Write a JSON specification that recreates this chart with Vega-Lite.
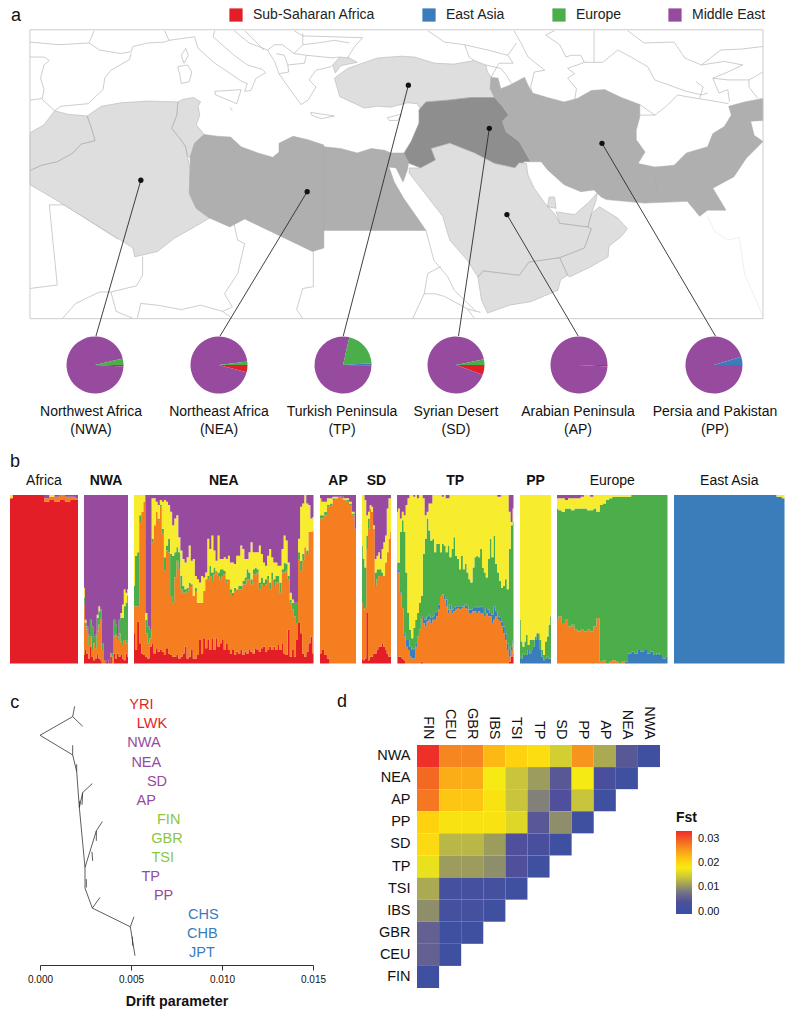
{"$schema":"https://vega.github.io/schema/vega-lite/v6.json","padding":0,"background":"white","spacing":0,"resolve":{"scale":{"color":"independent"},"legend":{"color":"independent"}},"config":{"font":"Liberation Sans","view":{"stroke":null},"title":{"font":"Liberation Sans","color":"#111"},"axis":{"labelFont":"Liberation Sans","titleFont":"Liberation Sans"},"legend":{"labelFont":"Liberation Sans","titleFont":"Liberation Sans"}},
"datasets":{
"pies":[{"pop":"NWA","group":"Sub-Saharan Africa","share":0.8},{"pop":"NWA","group":"Middle East","share":95.5},{"pop":"NWA","group":"Europe","share":3.7},{"pop":"NEA","group":"Sub-Saharan Africa","share":4.1},{"pop":"NEA","group":"Middle East","share":93.9},{"pop":"NEA","group":"Europe","share":2.0},{"pop":"TP","group":"Sub-Saharan Africa","share":0.1},{"pop":"TP","group":"Middle East","share":78.5},{"pop":"TP","group":"Europe","share":20.4},{"pop":"TP","group":"East Asia","share":1.0},{"pop":"SD","group":"Sub-Saharan Africa","share":5.6},{"pop":"SD","group":"Middle East","share":91.1},{"pop":"SD","group":"Europe","share":3.3},{"pop":"AP","group":"Sub-Saharan Africa","share":0.8},{"pop":"AP","group":"Middle East","share":99.2},{"pop":"PP","group":"Middle East","share":95.3},{"pop":"PP","group":"East Asia","share":4.7}],
"groups":[{"group":"Sub-Saharan Africa"},{"group":"East Asia"},{"group":"Europe"},{"group":"Middle East"}]
},
"vconcat":[
{"width":791,"height":336,
"projection":{"type":"identity","reflectY":true,"scale":8.8,"translate":[102,424]},
"layer":[
{"data":{"values":[{"type":"Feature","properties":{"kind":"faint"},"geometry":{"type":"LineString","coordinates":[[68.7,23.6],[69.5,21.9],[71.0,20.9],[72.3,21.2],[72.9,17.1],[75.0,12.2]]}}]},"mark":{"type":"geoshape","filled":false,"stroke":"#e8e8e8","strokeWidth":0.7}},
{"data":{"values":[{"type":"Feature","properties":{"kind":"borders"},"geometry":{"type":"MultiLineString","coordinates":[
[[-8.3,43.4],[-5.0,43.1],[-1.6,43.3],[-1.0,44.7]],
[[-1.6,43.3],[-0.4,42.5],[2.0,42.1],[3.2,42.3],[3.4,42.9],[5.1,43.3],[7.0,43.4],[7.5,43.6],[7.0,44.7]],
[[3.2,42.1],[3.0,41.4],[0.9,40.2],[0.2,39.3],[0,38.0],[-1.7,36.4],[-4.8,36.1],[-5.5,35.6]],
[[-8.3,41.7],[-6.7,41.7],[-6.1,41.3],[-6.7,40.8],[-7.1,39.3],[-6.7,38.0],[-6.9,37.0],[-8.3,36.8]],
[[-6.9,36.9],[-5.5,35.6]],
[[7.5,43.6],[10.4,44.0],[10.8,42.7],[12.7,41.0],[14.5,39.8],[15.8,38.9],[16.4,38.7],[16.1,37.8],[16.8,37.9],[17.4,39.3],[18.5,39.9],[18.1,40.3],[16.4,40.8],[14.9,41.9],[12.5,44.0],[12.7,44.7]],
[[8.9,41.9],[9.4,42.7],[9.7,41.9],[9.2,41.0],[8.9,41.9]],
[[8.5,40.6],[9.6,40.8],[10.1,40.0],[9.8,38.9],[8.9,38.7],[8.7,39.8],[8.5,40.6]],
[[12.7,37.8],[15.7,38.0],[15.2,36.4],[12.8,37.4],[12.7,37.8]],
[[23.6,35.4],[26.3,35.0],[24.8,34.7],[23.7,35.1],[23.6,35.4]],
[[32.3,34.8],[33.9,35.2],[33.5,34.5],[32.5,34.5],[32.3,34.8]],
[[14.4,36.0],[14.7,35.6]],
[[14.9,44.7],[16.6,43.3],[18.7,42.5],[19.5,41.2],[20.0,39.8],[21.4,37.8],[22.5,36.3],[23.3,36.8],[24.2,38.3],[23.4,39.1],[24.2,40.2],[25.9,40.6],[26.1,40.8]],
[[18.7,42.5],[19.5,43.1],[20.4,43.1],[21.7,42.1],[23.1,41.9],[22.9,41.0],[21.0,40.8],[20.6,41.9],[19.7,42.1]],
[[23.1,41.9],[26.1,41.6],[26.9,41.7]],
[[21.7,42.1],[22.7,43.1],[22.7,44.4]],
[[21.0,40.8],[21.1,40.0],[20.0,39.8]],
[[22.7,43.1],[24.4,43.3],[26.3,43.6],[28.0,43.3]],
[[22.7,44.1],[29.5,43.9],[28.6,42.9],[27.8,41.6]],
[[16.1,44.7],[18.3,42.5]],
[[21.7,44.7],[22.7,44.1]],
[[-6.1,24.9],[-5.2,15.8],[-8.3,15.4]],
[[-6.1,24.9],[-4.4,24.9],[1.7,21.0]],
[[4.5,19.0],[4.5,16.9],[3.8,15.7],[0.9,15.0],[-0.4,15.0],[-3.1,13.7],[-4.6,12.0]],
[[0.9,15.0],[1.5,12.8],[3.4,12.0]],
[[3.9,12.0],[4.3,13.7],[6.2,13.5],[8.9,13.0],[11.1,13.5],[13.6,12.8],[14.7,12.0]],
[[14.9,22.7],[15.3,20.9],[16.1,20.5],[15.3,17.1],[13.8,14.8],[14.7,13.3],[13.6,12.8]],
[[23.9,19.6],[23.9,15.6],[22.7,15.4],[22.0,13.0],[22.7,12.0]],
[[36.7,22.0],[37.1,20.5],[37.6,18.6],[39.2,16.7],[39.9,15.2],[42.4,12.8],[42.9,12.7]],
[[38.4,17.9],[36.9,17.1],[36.5,14.8],[35.2,12.0]],
[[36.5,14.8],[37.7,14.8],[38.8,14.5],[41.4,13.1],[42.4,12.8]],
[[41.4,13.1],[42.2,12.0]],
[[36.9,44.7],[38.8,43.4],[41.1,43.1],[41.6,41.7],[42.2,41.3]],
[[43.5,40.8],[45.2,40.4],[45.8,39.7],[46.4,38.7]],
[[44.1,39.4],[45.0,41.0],[46.6,41.0],[46.0,41.9],[47.0,43.3]],
[[41.1,43.1],[43.7,42.5],[46.0,41.9]],
[[46.7,44.7],[47.5,43.3],[48.3,41.7],[50.2,40.2],[49.0,40.0],[48.6,38.3],[48.8,37.6]],
[[51.3,44.7],[50.3,44.2],[51.9,43.1],[52.6,41.7],[53.2,41.9],[54.3,41.9],[54.7,41.1],[52.8,40.4],[53.6,39.8],[52.8,39.3],[53.8,38.1],[53.6,36.8]],
[[55.8,44.7],[55.8,41.1],[54.7,41.1]],
[[55.8,41.1],[56.8,41.1],[58.5,42.5],[60.0,41.7],[61.9,40.6],[62.7,39.1],[66.3,37.8],[68.0,37.4],[68.7,37.6]],
[[59.6,44.7],[61.5,43.3],[64.9,43.4],[66.1,41.6],[68.0,40.8],[70.2,42.5],[72.5,42.6],[75.0,42.9]],
[[68.0,40.8],[70.6,41.2],[72.7,40.8],[71.0,40.0],[69.3,39.3],[71.0,39.1],[73.4,39.1],[75.0,40.0]],
[[73.4,39.1],[73.4,38.3],[74.4,37.0]],
[[67.4,38.9],[68.2,38.3],[67.8,37.0]],
[[69.3,39.3],[70.0,37.6],[71.0,38.0],[71.2,36.6]],
[[61.0,36.3],[62.7,35.1],[64.0,36.1],[65.3,37.4],[66.3,37.2],[67.6,37.0],[71.1,36.4]],
[[61.0,35.1],[62.7,35.1]]
]}}]},"mark":{"type":"geoshape","filled":false,"stroke":"#b8b8b8","strokeWidth":0.7}},
{"data":{"values":[
{"type":"Feature","properties":{"region":"NWA"},"geometry":{"type":"MultiPolygon","coordinates":[
[[[-8.3,33.1],[-6.7,34.0],[-5.5,35.6],[-4.0,35.2],[-1.8,35.0],[-1.4,33.9],[-0.9,32.2],[-2.5,31.8],[-3.4,30.8],[-5.2,29.8],[-7.0,29.4],[-8.3,28.8],[-8.3,33.1]]],
[[[-1.8,35.0],[-0.2,36.1],[2.0,36.5],[5.1,36.7],[8.5,36.6],[8.4,35.1],[7.8,33.6],[8.7,32.5],[9.4,31.5],[9.6,30.4],[9.9,28.9],[9.8,26.2],[10.6,24.5],[12.1,23.4],[10.4,22.4],[8.1,21.1],[6.2,19.6],[3.6,19.0],[3.4,20.0],[2.0,20.9],[-1.7,23.2],[-5.9,25.8],[-8.3,27.2],[-8.3,28.8],[-7.0,29.4],[-5.2,29.8],[-3.4,30.8],[-2.5,31.8],[-0.9,32.2],[-1.4,33.9],[-1.8,35.0]]],
[[[8.5,36.6],[9.1,36.9],[10.3,37.1],[11.1,36.6],[10.8,36.1],[11.0,35.1],[10.6,34.0],[11.5,32.9],[10.4,31.9],[9.9,30.3],[9.6,30.4],[9.4,31.5],[8.7,32.5],[7.8,33.6],[8.4,35.1],[8.5,36.6]]]
]}},
{"type":"Feature","properties":{"region":"NEA"},"geometry":{"type":"MultiPolygon","coordinates":[
[[[11.5,32.9],[13.0,32.7],[14.5,32.6],[15.7,31.5],[17.6,30.8],[19.3,30.3],[20.0,30.9],[20.0,31.9],[21.6,32.7],[23.3,32.3],[25.1,31.7],[25.1,20.0],[23.8,19.6],[16.1,23.3],[14.4,22.4],[12.1,23.4],[10.6,24.5],[9.8,26.2],[9.9,28.9],[9.9,30.3],[10.4,31.9],[11.5,32.9]]],
[[[25.1,31.5],[27.0,31.3],[28.9,30.8],[30.5,31.3],[32.0,31.1],[32.7,30.8],[34.6,30.8],[34.8,30.1],[34.6,28.9],[34.1,27.5],[33.3,29.1],[32.5,29.2],[33.1,27.5],[34.2,25.6],[35.6,23.6],[36.7,22.0],[25.1,22.0],[25.1,31.5]]]
]}},
{"type":"Feature","properties":{"region":"TP"},"geometry":{"type":"MultiPolygon","coordinates":[
[[[26.3,39.3],[27.8,40.4],[28.9,40.8],[31.2,41.6],[33.9,41.8],[35.4,41.7],[37.7,41.0],[39.9,40.9],[42.2,41.3],[43.5,40.8],[43.7,40.0],[44.1,39.4],[44.0,38.1],[44.5,37.1],[41.8,37.1],[39.2,36.8],[36.7,36.6],[36.0,35.9],[35.7,36.4],[34.6,36.5],[32.7,36.0],[31.2,36.1],[29.7,35.9],[28.2,36.6],[26.9,37.2],[26.3,39.3]]],
[[[26.1,40.8],[26.9,41.7],[28.0,41.6],[28.9,41.1],[27.0,40.7],[26.4,39.9],[26.1,40.8]]]
]}},
{"type":"Feature","properties":{"region":"SD"},"geometry":{"type":"Polygon","coordinates":[[[36.7,36.6],[39.2,36.8],[41.8,37.1],[44.5,37.1],[45.4,36.1],[46.1,35.1],[45.4,34.4],[45.8,33.2],[47.3,32.1],[48.6,29.8],[47.9,29.8],[46.8,29.1],[44.5,29.6],[42.2,30.8],[39.4,31.9],[37.3,31.3],[37.8,30.0],[36.1,29.1],[34.8,29.6],[34.2,30.8],[35.0,32.1],[35.9,34.2],[35.9,35.7],[36.7,36.6]]]}},
{"type":"Feature","properties":{"region":"AP"},"geometry":{"type":"MultiPolygon","coordinates":[
[[[39.4,31.9],[42.2,30.8],[44.5,29.6],[46.8,29.1],[47.3,29.7],[48.1,29.6],[48.3,28.3],[49.0,26.8],[50.2,25.1],[51.3,23.9],[51.9,22.8],[55.0,22.4],[55.5,22.2],[54.7,20.0],[51.9,18.9],[48.4,18.4],[47.3,16.9],[43.2,17.4],[42.6,16.7],[41.4,18.6],[39.4,20.9],[38.6,23.6],[36.9,25.8],[34.8,28.5],[34.8,29.1],[36.1,29.1],[37.8,30.0],[37.3,31.3],[39.4,31.9]]],
[[[43.2,17.4],[47.3,16.9],[48.4,18.4],[51.9,18.9],[52.8,16.9],[52.0,16.4],[51.7,15.2],[48.6,13.9],[46.2,13.5],[43.7,12.6],[43.0,14.1],[42.6,16.7],[43.2,17.4]]],
[[[51.9,18.9],[54.7,20.0],[55.5,22.2],[55.1,22.4],[55.5,23.9],[56.4,24.7],[58.5,23.4],[59.6,22.2],[58.9,21.3],[57.5,20.2],[57.4,19.0],[55.5,17.9],[53.0,16.7],[52.8,16.9],[51.9,18.9]]],
[[[51.9,22.8],[51.5,24.1],[53.6,23.8],[55.1,25.1],[56.2,26.3],[56.0,25.3],[55.5,23.9],[55.1,22.4],[51.9,22.8]]],
[[[50.5,24.7],[50.7,25.8],[51.3,25.8],[51.5,24.5],[50.5,24.7]]]
]}},
{"type":"Feature","properties":{"region":"PP"},"geometry":{"type":"MultiPolygon","coordinates":[
[[[44.1,39.4],[44.9,39.3],[45.2,38.1],[46.2,38.5],[47.9,39.4],[48.3,38.5],[48.8,37.6],[50.5,37.1],[52.4,36.6],[53.9,37.0],[55.5,37.9],[57.0,38.0],[58.9,37.1],[61.0,36.3],[61.0,34.9],[60.6,33.4],[60.6,32.3],[61.6,30.9],[60.8,29.6],[62.7,28.3],[63.0,26.8],[61.5,25.1],[57.2,25.5],[56.6,25.8],[55.8,26.6],[54.3,26.4],[52.4,27.2],[50.5,28.9],[49.8,29.8],[48.6,29.8],[47.3,32.1],[45.8,33.2],[45.4,34.4],[46.1,35.1],[45.4,36.1],[44.5,37.1],[44.0,38.1],[44.1,39.4]]],
[[[60.8,29.6],[62.7,29.2],[64.9,29.4],[66.3,30.8],[68.7,31.5],[69.3,33.0],[70.6,33.8],[71.4,35.1],[71.1,36.1],[72.9,36.6],[75.0,37.0],[75.0,34.5],[73.6,34.4],[74.0,32.8],[75.0,32.1],[73.1,30.2],[71.7,28.1],[69.3,26.8],[70.8,24.3],[68.7,24.3],[67.8,23.6],[66.4,25.3],[61.5,25.1],[63.0,26.8],[62.7,28.3],[60.8,29.6]]]
]}}
]},"mark":{"type":"geoshape","stroke":"#ababab","strokeWidth":0.5},"encoding":{"fill":{"field":"properties.region","type":"nominal","legend":null,"scale":{"domain":["NWA","NEA","TP","SD","AP","PP"],"range":["#dedede","#afafaf","#dedede","#8e8e8e","#dedede","#afafaf"]}}}},
{"data":{"values":[{"type":"Feature","properties":{"kind":"frame"},"geometry":{"type":"LineString","coordinates":[[-8.3,44.8],[75.0,44.8],[75.0,11.97],[-8.3,11.97],[-8.3,44.8]]}}]},"mark":{"type":"geoshape","filled":false,"stroke":"#c6c6c6","strokeWidth":0.9}},
{"data":{"values":[{"pop":"NWA","lon":4.3,"lat":27.7,"lon2":-0.8,"lat2":10},{"pop":"NEA","lon":23.2,"lat":26.4,"lon2":13.3,"lat2":10},{"pop":"TP","lon":34.7,"lat":38.5,"lon2":27.3,"lat2":10},{"pop":"SD","lon":43.9,"lat":33.6,"lon2":40.4,"lat2":10},{"pop":"AP","lon":45.9,"lat":23.8,"lon2":54.0,"lat2":10},{"pop":"PP","lon":56.7,"lat":31.9,"lon2":69.6,"lat2":10}]},
"layer":[{"mark":{"type":"rule","color":"#2b2b2b","strokeWidth":0.9},"encoding":{"longitude":{"field":"lon","type":"quantitative"},"latitude":{"field":"lat","type":"quantitative"},"longitude2":{"field":"lon2"},"latitude2":{"field":"lat2"}}},
{"mark":{"type":"circle","color":"#111","opacity":1,"size":28},"encoding":{"longitude":{"field":"lon","type":"quantitative"},"latitude":{"field":"lat","type":"quantitative"}}}]},
{"data":{"values":[{"panel":"a","lon":-10.45,"lat":45.8}]},"mark":{"type":"text","fontSize":18,"align":"left","baseline":"alphabetic","color":"#111"},"encoding":{"text":{"field":"panel"},"longitude":{"field":"lon","type":"quantitative"},"latitude":{"field":"lat","type":"quantitative"}}},
{"data":{"name":"groups"},"mark":{"type":"square","opacity":0},"encoding":{"color":{"field":"group","type":"nominal","scale":{"domain":["Sub-Saharan Africa","East Asia","Europe","Middle East"],"range":["#e31e26","#3a7dba","#4cae4a","#964b9e"]},"legend":{"orient":"none","legendX":228,"legendY":8,"direction":"horizontal","columns":4,"title":null,"padding":0,"symbolType":"square","symbolSize":175,"symbolOpacity":1,"symbolStrokeWidth":0,"labelFontSize":14,"labelColor":"#222","labelOffset":10,"columnPadding":46}}}}
]},
{"spacing":0,"bounds":"flush","resolve":{"scale":{"color":"independent"},"legend":{"color":"independent"}},"hconcat":[
{"width":32,"height":56,"data":{"values":[{}]},"mark":{"type":"rule","opacity":0},"encoding":{}},
{"width":124,"height":56,"data":{"name":"pies"},"transform":[{"filter":"datum.pop=='NWA'"}],"title":{"text":["Northwest Africa","(NWA)"],"orient":"bottom","offset":11,"dx":-4,"fontSize":14,"fontWeight":"normal","lineHeight":18.3},"mark":{"type":"arc","outerRadius":28.5},"encoding":{"theta":{"field":"share","type":"quantitative","stack":true,"scale":{"range":[1.5708,7.854]}},"order":{"field":"group","sort":"descending"},"color":{"field":"group","type":"nominal","legend":null,"scale":{"domain":["Sub-Saharan Africa","East Asia","Europe","Middle East"],"range":["#e31e26","#3a7dba","#4cae4a","#964b9e"]}}}},
{"width":124,"height":56,"data":{"name":"pies"},"transform":[{"filter":"datum.pop=='NEA'"}],"title":{"text":["Northeast Africa","(NEA)"],"orient":"bottom","offset":11,"fontSize":14,"fontWeight":"normal","lineHeight":18.3},"mark":{"type":"arc","outerRadius":28.5},"encoding":{"theta":{"field":"share","type":"quantitative","stack":true,"scale":{"range":[1.5708,7.854]}},"order":{"field":"group","sort":"descending"},"color":{"field":"group","type":"nominal","legend":null,"scale":{"domain":["Sub-Saharan Africa","East Asia","Europe","Middle East"],"range":["#e31e26","#3a7dba","#4cae4a","#964b9e"]}}}},
{"width":124,"height":56,"data":{"name":"pies"},"transform":[{"filter":"datum.pop=='TP'"}],"title":{"text":["Turkish Peninsula","(TP)"],"orient":"bottom","offset":11,"dx":-1,"fontSize":14,"fontWeight":"normal","lineHeight":18.3},"mark":{"type":"arc","outerRadius":28.5},"encoding":{"theta":{"field":"share","type":"quantitative","stack":true,"scale":{"range":[1.5708,7.854]}},"order":{"field":"group","sort":"descending"},"color":{"field":"group","type":"nominal","legend":null,"scale":{"domain":["Sub-Saharan Africa","East Asia","Europe","Middle East"],"range":["#e31e26","#3a7dba","#4cae4a","#964b9e"]}}}},
{"width":102,"height":56,"data":{"name":"pies"},"transform":[{"filter":"datum.pop=='SD'"}],"title":{"text":["Syrian Desert","(SD)"],"orient":"bottom","offset":11,"fontSize":14,"fontWeight":"normal","lineHeight":18.3},"mark":{"type":"arc","outerRadius":28.5},"encoding":{"theta":{"field":"share","type":"quantitative","stack":true,"scale":{"range":[1.5708,7.854]}},"order":{"field":"group","sort":"descending"},"color":{"field":"group","type":"nominal","legend":null,"scale":{"domain":["Sub-Saharan Africa","East Asia","Europe","Middle East"],"range":["#e31e26","#3a7dba","#4cae4a","#964b9e"]}}}},
{"width":144,"height":56,"data":{"name":"pies"},"transform":[{"filter":"datum.pop=='AP'"}],"title":{"text":["Arabian Peninsula","(AP)"],"orient":"bottom","offset":11,"dx":-1,"fontSize":14,"fontWeight":"normal","lineHeight":18.3},"mark":{"type":"arc","outerRadius":28.5},"encoding":{"theta":{"field":"share","type":"quantitative","stack":true,"scale":{"range":[1.5708,7.854]}},"order":{"field":"group","sort":"descending"},"color":{"field":"group","type":"nominal","legend":null,"scale":{"domain":["Sub-Saharan Africa","East Asia","Europe","Middle East"],"range":["#e31e26","#3a7dba","#4cae4a","#964b9e"]}}}},
{"width":126,"height":56,"data":{"name":"pies"},"transform":[{"filter":"datum.pop=='PP'"}],"title":{"text":["Persia and Pakistan","(PP)"],"orient":"bottom","offset":11,"dx":1,"fontSize":14,"fontWeight":"normal","lineHeight":18.3},"mark":{"type":"arc","outerRadius":28.5},"encoding":{"theta":{"field":"share","type":"quantitative","stack":true,"scale":{"range":[1.5708,7.854]}},"order":{"field":"group","sort":"descending"},"color":{"field":"group","type":"nominal","legend":null,"scale":{"domain":["Sub-Saharan Africa","East Asia","Europe","Middle East"],"range":["#e31e26","#3a7dba","#4cae4a","#964b9e"]}}}}
]},
{"width":1,"height":14,"data":{"values":[{}]},"mark":{"type":"rule","opacity":0},"encoding":{}},
{"spacing":6,"bounds":"flush","resolve":{"scale":{"color":"independent"},"legend":{"color":"independent"}},"hconcat":[
{"width":3,"height":168.5,"data":{"values":[{"panel":"b","u":3,"v":-0.169}]},"mark":{"type":"text","fontSize":18,"align":"left","baseline":"alphabetic","color":"#111"},"encoding":{"text":{"field":"panel"},"x":{"field":"u","type":"quantitative","axis":null,"scale":{"domain":[0,1],"zero":false,"nice":false}},"y":{"field":"v","type":"quantitative","axis":null,"scale":{"domain":[0,1],"reverse":true,"nice":false}}}},
{"width":68,"height":168.5,"title":{"text":"Africa","fontSize":14,"fontWeight":"normal","offset":7},
"data":{"values":[{"i":1,"c1":98,"c2":0,"c5":2,"c6":0},{"i":2,"c1":100,"c2":0,"c5":0,"c6":0},{"i":3,"c1":100,"c2":0,"c5":0,"c6":0},{"i":4,"c1":100,"c2":0,"c5":0,"c6":0},{"i":5,"c1":100,"c2":0,"c5":0,"c6":0},{"i":6,"c1":100,"c2":0,"c5":0,"c6":0},{"i":7,"c1":100,"c2":0,"c5":0,"c6":0},{"i":8,"c1":96,"c2":2,"c5":0,"c6":2},{"i":9,"c1":97,"c2":2,"c5":1,"c6":0},{"i":10,"c1":96,"c2":3,"c5":0,"c6":1},{"i":11,"c1":97,"c2":3,"c5":0,"c6":0},{"i":12,"c1":96,"c2":3,"c5":0,"c6":1},{"i":13,"c1":97,"c2":2,"c5":0,"c6":1},{"i":14,"c1":97,"c2":1,"c5":0,"c6":2}]},
"transform":[{"fold":["c1","c2","c5","c6"],"as":["key","share"]}],"mark":{"type":"area","interpolate":"step"},"encoding":{"x":{"field":"i","type":"quantitative","axis":null,"scale":{"domain":[1,14],"nice":false,"zero":false}},"y":{"field":"share","type":"quantitative","stack":"zero","axis":null,"scale":{"domain":[0,100],"nice":false}},"color":{"field":"key","type":"nominal","legend":null,"scale":{"domain":["c1","c2","c3","c4","c5","c6"],"range":["#e31e26","#f57e20","#3a7dba","#4cae4a","#f8ec2f","#964b9e"]}},"order":{"field":"key","sort":"ascending"}}},
{"width":44,"height":168.5,"title":{"text":"NWA","fontSize":14,"fontWeight":"bold","offset":7},
"data":{"values":[{"i":1,"c1":5,"c2":30,"c4":4,"c5":6,"c6":55},{"i":2,"c1":8,"c2":14,"c4":2,"c5":2,"c6":74},{"i":3,"c1":6,"c2":14,"c4":2,"c5":0,"c6":78},{"i":4,"c1":3,"c2":8,"c4":6,"c5":0,"c6":83},{"i":5,"c1":10,"c2":6,"c4":10,"c5":0,"c6":74},{"i":6,"c1":4,"c2":4,"c4":14,"c5":0,"c6":78},{"i":7,"c1":2,"c2":10,"c4":4,"c5":0,"c6":84},{"i":8,"c1":3,"c2":6,"c4":8,"c5":0,"c6":83},{"i":9,"c1":5,"c2":14,"c4":8,"c5":2,"c6":71},{"i":10,"c1":3,"c2":20,"c4":8,"c5":3,"c6":66},{"i":11,"c1":2,"c2":24,"c4":6,"c5":0,"c6":68},{"i":12,"c1":0,"c2":8,"c4":4,"c5":0,"c6":88},{"i":13,"c1":0,"c2":2,"c4":0,"c5":0,"c6":98},{"i":14,"c1":0,"c2":0,"c4":0,"c5":0,"c6":100},{"i":15,"c1":2,"c2":0,"c4":0,"c5":0,"c6":98},{"i":16,"c1":0,"c2":0,"c4":0,"c5":0,"c6":100},{"i":17,"c1":4,"c2":2,"c4":0,"c5":0,"c6":94},{"i":18,"c1":0,"c2":4,"c4":2,"c5":0,"c6":94},{"i":19,"c1":6,"c2":10,"c4":10,"c5":0,"c6":74},{"i":20,"c1":3,"c2":14,"c4":6,"c5":0,"c6":77},{"i":21,"c1":6,"c2":8,"c4":2,"c5":0,"c6":84},{"i":22,"c1":4,"c2":14,"c4":8,"c5":0,"c6":74},{"i":23,"c1":5,"c2":8,"c4":14,"c5":3,"c6":70},{"i":24,"c1":3,"c2":8,"c4":16,"c5":8,"c6":65},{"i":25,"c1":2,"c2":12,"c4":20,"c5":10,"c6":56},{"i":26,"c1":6,"c2":6,"c4":24,"c5":6,"c6":58},{"i":27,"c1":4,"c2":10,"c4":26,"c5":4,"c6":56}]},
"transform":[{"fold":["c1","c2","c4","c5","c6"],"as":["key","share"]}],"mark":{"type":"area","interpolate":"step"},"encoding":{"x":{"field":"i","type":"quantitative","axis":null,"scale":{"domain":[1,27],"nice":false,"zero":false}},"y":{"field":"share","type":"quantitative","stack":"zero","axis":null,"scale":{"domain":[0,100],"nice":false}},"color":{"field":"key","type":"nominal","legend":null,"scale":{"domain":["c1","c2","c3","c4","c5","c6"],"range":["#e31e26","#f57e20","#3a7dba","#4cae4a","#f8ec2f","#964b9e"]}},"order":{"field":"key","sort":"ascending"}}},
{"width":179.5,"height":168.5,"title":{"text":"NEA","fontSize":14,"fontWeight":"bold","offset":7},
"data":{"values":[{"i":1,"c1":18,"c2":16,"c4":12,"c5":54,"c6":0},{"i":2,"c1":8,"c2":26,"c4":30,"c5":36,"c6":0},{"i":3,"c1":25,"c2":9,"c4":32,"c5":34,"c6":0},{"i":4,"c1":12,"c2":72,"c4":4,"c5":12,"c6":0},{"i":5,"c1":6,"c2":84,"c4":0,"c5":10,"c6":0},{"i":6,"c1":5,"c2":91,"c4":0,"c5":4,"c6":0},{"i":7,"c1":4,"c2":14,"c4":8,"c5":4,"c6":70},{"i":8,"c1":3,"c2":9,"c4":10,"c5":0,"c6":78},{"i":9,"c1":10,"c2":5,"c4":5,"c5":0,"c6":80},{"i":10,"c1":12,"c2":60,"c4":2,"c5":24,"c6":2},{"i":11,"c1":6,"c2":76,"c4":0,"c5":16,"c6":2},{"i":12,"c1":9,"c2":81,"c4":0,"c5":6,"c6":4},{"i":13,"c1":7,"c2":78,"c4":1,"c5":8,"c6":6},{"i":14,"c1":8,"c2":85,"c4":1,"c5":3,"c6":3},{"i":15,"c1":7,"c2":70,"c4":3,"c5":16,"c6":4},{"i":16,"c1":5,"c2":50,"c4":8,"c5":34,"c6":3},{"i":17,"c1":9,"c2":58,"c4":3,"c5":26,"c6":4},{"i":18,"c1":6,"c2":60,"c4":8,"c5":20,"c6":6},{"i":19,"c1":5,"c2":35,"c4":25,"c5":25,"c6":10},{"i":20,"c1":4,"c2":32,"c4":28,"c5":18,"c6":18},{"i":21,"c1":4,"c2":47,"c4":15,"c5":20,"c6":14},{"i":22,"c1":5,"c2":56,"c4":8,"c5":19,"c6":12},{"i":23,"c1":3,"c2":53,"c4":10,"c5":9,"c6":25},{"i":24,"c1":4,"c2":40,"c4":8,"c5":15,"c6":33},{"i":25,"c1":6,"c2":36,"c4":4,"c5":16,"c6":38},{"i":26,"c1":10,"c2":32,"c4":2,"c5":16,"c6":40},{"i":27,"c1":3,"c2":40,"c4":2,"c5":18,"c6":37},{"i":28,"c1":4,"c2":42,"c4":2,"c5":22,"c6":30},{"i":29,"c1":8,"c2":38,"c4":1,"c5":14,"c6":39},{"i":30,"c1":3,"c2":37,"c4":0,"c5":22,"c6":38},{"i":31,"c1":3,"c2":40,"c4":2,"c5":7,"c6":48},{"i":32,"c1":5,"c2":31,"c4":0,"c5":14,"c6":50},{"i":33,"c1":14,"c2":22,"c4":0,"c5":12,"c6":52},{"i":34,"c1":6,"c2":30,"c4":0,"c5":16,"c6":48},{"i":35,"c1":15,"c2":28,"c4":0,"c5":8,"c6":49},{"i":36,"c1":9,"c2":41,"c4":0,"c5":4,"c6":46},{"i":37,"c1":14,"c2":36,"c4":2,"c5":22,"c6":26},{"i":38,"c1":8,"c2":44,"c4":6,"c5":10,"c6":32},{"i":39,"c1":15,"c2":34,"c4":5,"c5":22,"c6":24},{"i":40,"c1":8,"c2":45,"c4":4,"c5":10,"c6":33},{"i":41,"c1":15,"c2":40,"c4":0,"c5":6,"c6":39},{"i":42,"c1":10,"c2":42,"c4":2,"c5":22,"c6":24},{"i":43,"c1":12,"c2":38,"c4":6,"c5":6,"c6":38},{"i":44,"c1":14,"c2":38,"c4":4,"c5":6,"c6":38},{"i":45,"c1":8,"c2":45,"c4":2,"c5":8,"c6":37},{"i":46,"c1":12,"c2":36,"c4":2,"c5":12,"c6":38},{"i":47,"c1":8,"c2":42,"c4":0,"c5":14,"c6":36},{"i":48,"c1":6,"c2":36,"c4":2,"c5":16,"c6":40},{"i":49,"c1":8,"c2":32,"c4":2,"c5":18,"c6":40},{"i":50,"c1":5,"c2":38,"c4":2,"c5":14,"c6":41},{"i":51,"c1":7,"c2":37,"c4":0,"c5":20,"c6":36},{"i":52,"c1":6,"c2":38,"c4":2,"c5":18,"c6":36},{"i":53,"c1":8,"c2":36,"c4":2,"c5":24,"c6":30},{"i":54,"c1":5,"c2":42,"c4":2,"c5":19,"c6":32},{"i":55,"c1":7,"c2":40,"c4":4,"c5":11,"c6":38},{"i":56,"c1":6,"c2":44,"c4":6,"c5":6,"c6":38},{"i":57,"c1":8,"c2":42,"c4":4,"c5":12,"c6":34},{"i":58,"c1":7,"c2":40,"c4":3,"c5":22,"c6":28},{"i":59,"c1":6,"c2":47,"c4":3,"c5":10,"c6":34},{"i":60,"c1":9,"c2":44,"c4":4,"c5":9,"c6":34},{"i":61,"c1":8,"c2":46,"c4":2,"c5":10,"c6":34},{"i":62,"c1":7,"c2":37,"c4":4,"c5":22,"c6":30},{"i":63,"c1":9,"c2":38,"c4":4,"c5":14,"c6":35},{"i":64,"c1":10,"c2":36,"c4":2,"c5":12,"c6":40},{"i":65,"c1":7,"c2":40,"c4":3,"c5":8,"c6":42},{"i":66,"c1":8,"c2":42,"c4":2,"c5":12,"c6":36},{"i":67,"c1":10,"c2":34,"c4":4,"c5":20,"c6":32},{"i":68,"c1":8,"c2":42,"c4":4,"c5":9,"c6":37},{"i":69,"c1":10,"c2":36,"c4":4,"c5":10,"c6":40},{"i":70,"c1":8,"c2":40,"c4":4,"c5":8,"c6":40},{"i":71,"c1":11,"c2":37,"c4":4,"c5":6,"c6":42},{"i":72,"c1":8,"c2":34,"c4":6,"c5":10,"c6":42},{"i":73,"c1":12,"c2":42,"c4":2,"c5":12,"c6":32},{"i":74,"c1":6,"c2":48,"c4":6,"c5":16,"c6":24},{"i":75,"c1":5,"c2":50,"c4":4,"c5":14,"c6":27},{"i":76,"c1":20,"c2":30,"c4":2,"c5":8,"c6":40},{"i":77,"c1":4,"c2":32,"c4":2,"c5":4,"c6":58},{"i":78,"c1":8,"c2":24,"c4":4,"c5":2,"c6":62},{"i":79,"c1":4,"c2":24,"c4":8,"c5":0,"c6":64},{"i":80,"c1":14,"c2":10,"c4":12,"c5":0,"c6":64},{"i":81,"c1":24,"c2":38,"c4":4,"c5":8,"c6":26},{"i":82,"c1":18,"c2":37,"c4":6,"c5":32,"c6":7},{"i":83,"c1":6,"c2":55,"c4":4,"c5":30,"c6":5},{"i":84,"c1":4,"c2":65,"c4":0,"c5":31,"c6":0},{"i":85,"c1":7,"c2":58,"c4":2,"c5":28,"c6":5},{"i":86,"c1":12,"c2":66,"c4":0,"c5":16,"c6":6},{"i":87,"c1":16,"c2":62,"c4":0,"c5":8,"c6":14},{"i":88,"c1":6,"c2":73,"c4":0,"c5":8,"c6":13}]},
"transform":[{"fold":["c1","c2","c4","c5","c6"],"as":["key","share"]}],"mark":{"type":"area","interpolate":"step"},"encoding":{"x":{"field":"i","type":"quantitative","axis":null,"scale":{"domain":[1,88],"nice":false,"zero":false}},"y":{"field":"share","type":"quantitative","stack":"zero","axis":null,"scale":{"domain":[0,100],"nice":false}},"color":{"field":"key","type":"nominal","legend":null,"scale":{"domain":["c1","c2","c3","c4","c5","c6"],"range":["#e31e26","#f57e20","#3a7dba","#4cae4a","#f8ec2f","#964b9e"]}},"order":{"field":"key","sort":"ascending"}}},
{"width":36,"height":168.5,"title":{"text":"AP","fontSize":14,"fontWeight":"bold","offset":7},
"data":{"values":[{"i":1,"c1":6,"c2":80,"c4":2,"c5":10,"c6":2},{"i":2,"c1":8,"c2":78,"c4":2,"c5":8,"c6":4},{"i":3,"c1":5,"c2":83,"c4":2,"c5":6,"c6":4},{"i":4,"c1":3,"c2":90,"c4":1,"c5":4,"c6":2},{"i":5,"c1":0,"c2":94,"c4":1,"c5":3,"c6":2},{"i":6,"c1":0,"c2":97,"c4":1,"c5":1,"c6":1},{"i":7,"c1":0,"c2":98,"c4":0,"c5":1,"c6":1},{"i":8,"c1":0,"c2":99,"c4":0,"c5":0,"c6":1},{"i":9,"c1":0,"c2":98,"c4":1,"c5":0,"c6":1},{"i":10,"c1":0,"c2":97,"c4":0,"c5":1,"c6":2},{"i":11,"c1":0,"c2":96,"c4":1,"c5":1,"c6":2},{"i":12,"c1":0,"c2":94,"c4":1,"c5":1,"c6":4},{"i":13,"c1":0,"c2":88,"c4":1,"c5":1,"c6":10},{"i":14,"c1":0,"c2":80,"c4":0,"c5":0,"c6":20}]},
"transform":[{"fold":["c1","c2","c4","c5","c6"],"as":["key","share"]}],"mark":{"type":"area","interpolate":"step"},"encoding":{"x":{"field":"i","type":"quantitative","axis":null,"scale":{"domain":[1,14],"nice":false,"zero":false}},"y":{"field":"share","type":"quantitative","stack":"zero","axis":null,"scale":{"domain":[0,100],"nice":false}},"color":{"field":"key","type":"nominal","legend":null,"scale":{"domain":["c1","c2","c3","c4","c5","c6"],"range":["#e31e26","#f57e20","#3a7dba","#4cae4a","#f8ec2f","#964b9e"]}},"order":{"field":"key","sort":"ascending"}}},
{"width":29,"height":168.5,"title":{"text":"SD","fontSize":14,"fontWeight":"bold","offset":7},
"data":{"values":[{"i":1,"c1":3,"c2":33,"c4":34,"c5":30,"c6":0},{"i":2,"c1":2,"c2":30,"c4":30,"c5":38,"c6":0},{"i":3,"c1":3,"c2":30,"c4":24,"c5":40,"c6":3},{"i":4,"c1":30,"c2":38,"c4":8,"c5":12,"c6":12},{"i":5,"c1":2,"c2":78,"c4":6,"c5":4,"c6":10},{"i":6,"c1":4,"c2":88,"c4":0,"c5":2,"c6":6},{"i":7,"c1":4,"c2":86,"c4":0,"c5":3,"c6":7},{"i":8,"c1":6,"c2":74,"c4":0,"c5":2,"c6":18},{"i":9,"c1":6,"c2":40,"c4":8,"c5":8,"c6":38},{"i":10,"c1":8,"c2":42,"c4":6,"c5":8,"c6":36},{"i":11,"c1":10,"c2":42,"c4":4,"c5":10,"c6":34},{"i":12,"c1":10,"c2":42,"c4":4,"c5":6,"c6":38},{"i":13,"c1":12,"c2":40,"c4":2,"c5":14,"c6":32},{"i":14,"c1":10,"c2":42,"c4":0,"c5":20,"c6":28},{"i":15,"c1":8,"c2":52,"c4":0,"c5":16,"c6":24},{"i":16,"c1":6,"c2":60,"c4":0,"c5":26,"c6":8},{"i":17,"c1":4,"c2":70,"c4":0,"c5":24,"c6":2},{"i":18,"c1":4,"c2":74,"c4":0,"c5":20,"c6":2}]},
"transform":[{"fold":["c1","c2","c4","c5","c6"],"as":["key","share"]}],"mark":{"type":"area","interpolate":"step"},"encoding":{"x":{"field":"i","type":"quantitative","axis":null,"scale":{"domain":[1,18],"nice":false,"zero":false}},"y":{"field":"share","type":"quantitative","stack":"zero","axis":null,"scale":{"domain":[0,100],"nice":false}},"color":{"field":"key","type":"nominal","legend":null,"scale":{"domain":["c1","c2","c3","c4","c5","c6"],"range":["#e31e26","#f57e20","#3a7dba","#4cae4a","#f8ec2f","#964b9e"]}},"order":{"field":"key","sort":"ascending"}}},
{"width":116.5,"height":168.5,"title":{"text":"TP","fontSize":14,"fontWeight":"bold","offset":7},
"data":{"values":[{"i":1,"c1":0,"c2":60,"c3":0,"c4":0,"c5":30,"c6":10},{"i":2,"c1":4,"c2":50,"c3":2,"c4":4,"c5":32,"c6":8},{"i":3,"c1":4,"c2":38,"c3":1,"c4":35,"c5":8,"c6":14},{"i":4,"c1":3,"c2":30,"c3":0,"c4":52,"c5":5,"c6":10},{"i":5,"c1":2,"c2":14,"c3":2,"c4":60,"c5":10,"c6":12},{"i":6,"c1":0,"c2":10,"c3":4,"c4":40,"c5":40,"c6":6},{"i":7,"c1":0,"c2":8,"c3":6,"c4":16,"c5":68,"c6":2},{"i":8,"c1":0,"c2":4,"c3":6,"c4":10,"c5":80,"c6":0},{"i":9,"c1":0,"c2":3,"c3":5,"c4":7,"c5":85,"c6":0},{"i":10,"c1":0,"c2":3,"c3":6,"c4":12,"c5":78,"c6":1},{"i":11,"c1":0,"c2":10,"c3":2,"c4":14,"c5":74,"c6":0},{"i":12,"c1":0,"c2":16,"c3":0,"c4":14,"c5":68,"c6":2},{"i":13,"c1":0,"c2":20,"c3":0,"c4":16,"c5":64,"c6":0},{"i":14,"c1":1,"c2":26,"c3":1,"c4":12,"c5":60,"c6":0},{"i":15,"c1":0,"c2":24,"c3":3,"c4":38,"c5":33,"c6":2},{"i":16,"c1":0,"c2":22,"c3":4,"c4":48,"c5":14,"c6":12},{"i":17,"c1":0,"c2":25,"c3":3,"c4":58,"c5":4,"c6":10},{"i":18,"c1":0,"c2":26,"c3":3,"c4":50,"c5":16,"c6":5},{"i":19,"c1":0,"c2":24,"c3":3,"c4":46,"c5":22,"c6":5},{"i":20,"c1":0,"c2":26,"c3":2,"c4":46,"c5":26,"c6":0},{"i":21,"c1":0,"c2":26,"c3":4,"c4":36,"c5":34,"c6":0},{"i":22,"c1":0,"c2":28,"c3":3,"c4":40,"c5":29,"c6":0},{"i":23,"c1":0,"c2":32,"c3":3,"c4":36,"c5":29,"c6":0},{"i":24,"c1":0,"c2":40,"c3":0,"c4":26,"c5":34,"c6":0},{"i":25,"c1":0,"c2":41,"c3":0,"c4":30,"c5":28,"c6":1},{"i":26,"c1":0,"c2":38,"c3":2,"c4":30,"c5":30,"c6":0},{"i":27,"c1":0,"c2":34,"c3":4,"c4":28,"c5":32,"c6":2},{"i":28,"c1":0,"c2":30,"c3":2,"c4":38,"c5":28,"c6":2},{"i":29,"c1":0,"c2":32,"c3":3,"c4":28,"c5":37,"c6":0},{"i":30,"c1":0,"c2":30,"c3":2,"c4":36,"c5":32,"c6":0},{"i":31,"c1":0,"c2":31,"c3":2,"c4":42,"c5":25,"c6":0},{"i":32,"c1":0,"c2":32,"c3":2,"c4":30,"c5":36,"c6":0},{"i":33,"c1":0,"c2":33,"c3":1,"c4":28,"c5":38,"c6":0},{"i":34,"c1":0,"c2":32,"c3":2,"c4":22,"c5":44,"c6":0},{"i":35,"c1":0,"c2":33,"c3":1,"c4":30,"c5":36,"c6":0},{"i":36,"c1":0,"c2":34,"c3":0,"c4":22,"c5":44,"c6":0},{"i":37,"c1":0,"c2":33,"c3":2,"c4":24,"c5":41,"c6":0},{"i":38,"c1":0,"c2":32,"c3":2,"c4":20,"c5":46,"c6":0},{"i":39,"c1":0,"c2":30,"c3":2,"c4":18,"c5":50,"c6":0},{"i":40,"c1":0,"c2":30,"c3":2,"c4":16,"c5":52,"c6":0},{"i":41,"c1":0,"c2":31,"c3":2,"c4":24,"c5":43,"c6":0},{"i":42,"c1":0,"c2":31,"c3":2,"c4":30,"c5":37,"c6":0},{"i":43,"c1":0,"c2":30,"c3":4,"c4":30,"c5":36,"c6":0},{"i":44,"c1":0,"c2":31,"c3":2,"c4":30,"c5":37,"c6":0},{"i":45,"c1":0,"c2":30,"c3":4,"c4":34,"c5":32,"c6":0},{"i":46,"c1":0,"c2":30,"c3":3,"c4":24,"c5":43,"c6":0},{"i":47,"c1":0,"c2":28,"c3":2,"c4":24,"c5":46,"c6":0},{"i":48,"c1":0,"c2":30,"c3":3,"c4":18,"c5":49,"c6":0},{"i":49,"c1":0,"c2":28,"c3":4,"c4":30,"c5":38,"c6":0},{"i":50,"c1":0,"c2":28,"c3":2,"c4":44,"c5":26,"c6":0},{"i":51,"c1":0,"c2":24,"c3":5,"c4":34,"c5":37,"c6":0},{"i":52,"c1":0,"c2":26,"c3":8,"c4":42,"c5":24,"c6":0},{"i":53,"c1":0,"c2":28,"c3":3,"c4":28,"c5":41,"c6":0},{"i":54,"c1":0,"c2":26,"c3":2,"c4":26,"c5":45,"c6":1},{"i":55,"c1":0,"c2":25,"c3":2,"c4":22,"c5":50,"c6":1},{"i":56,"c1":0,"c2":22,"c3":3,"c4":20,"c5":55,"c6":0},{"i":57,"c1":0,"c2":18,"c3":4,"c4":24,"c5":54,"c6":0},{"i":58,"c1":0,"c2":14,"c3":4,"c4":32,"c5":50,"c6":0},{"i":59,"c1":0,"c2":8,"c3":4,"c4":32,"c5":56,"c6":0},{"i":60,"c1":1,"c2":3,"c3":4,"c4":60,"c5":22,"c6":10},{"i":61,"c1":4,"c2":4,"c3":2,"c4":72,"c5":2,"c6":16},{"i":62,"c1":6,"c2":6,"c3":2,"c4":70,"c5":8,"c6":8}]},
"transform":[{"fold":["c1","c2","c3","c4","c5","c6"],"as":["key","share"]}],"mark":{"type":"area","interpolate":"step"},"encoding":{"x":{"field":"i","type":"quantitative","axis":null,"scale":{"domain":[1,62],"nice":false,"zero":false}},"y":{"field":"share","type":"quantitative","stack":"zero","axis":null,"scale":{"domain":[0,100],"nice":false}},"color":{"field":"key","type":"nominal","legend":null,"scale":{"domain":["c1","c2","c3","c4","c5","c6"],"range":["#e31e26","#f57e20","#3a7dba","#4cae4a","#f8ec2f","#964b9e"]}},"order":{"field":"key","sort":"ascending"}}},
{"width":31,"height":168.5,"title":{"text":"PP","fontSize":14,"fontWeight":"bold","offset":7},
"data":{"values":[{"i":1,"c3":4,"c4":22,"c5":74},{"i":2,"c3":3,"c4":10,"c5":87},{"i":3,"c3":6,"c4":4,"c5":90},{"i":4,"c3":5,"c4":8,"c5":87},{"i":5,"c3":5,"c4":12,"c5":83},{"i":6,"c3":8,"c4":3,"c5":89},{"i":7,"c3":6,"c4":8,"c5":86},{"i":8,"c3":8,"c4":6,"c5":86},{"i":9,"c3":10,"c4":4,"c5":86},{"i":10,"c3":14,"c4":2,"c5":84},{"i":11,"c3":18,"c4":0,"c5":82},{"i":12,"c3":14,"c4":4,"c5":82},{"i":13,"c3":8,"c4":6,"c5":86},{"i":14,"c3":4,"c4":4,"c5":92},{"i":15,"c3":2,"c4":3,"c5":95},{"i":16,"c3":3,"c4":10,"c5":87},{"i":17,"c3":4,"c4":12,"c5":84},{"i":18,"c3":3,"c4":20,"c5":77},{"i":19,"c3":3,"c4":25,"c5":72}]},
"transform":[{"fold":["c3","c4","c5"],"as":["key","share"]}],"mark":{"type":"area","interpolate":"step"},"encoding":{"x":{"field":"i","type":"quantitative","axis":null,"scale":{"domain":[1,19],"nice":false,"zero":false}},"y":{"field":"share","type":"quantitative","stack":"zero","axis":null,"scale":{"domain":[0,100],"nice":false}},"color":{"field":"key","type":"nominal","legend":null,"scale":{"domain":["c1","c2","c3","c4","c5","c6"],"range":["#e31e26","#f57e20","#3a7dba","#4cae4a","#f8ec2f","#964b9e"]}},"order":{"field":"key","sort":"ascending"}}},
{"width":110.5,"height":168.5,"title":{"text":"Europe","fontSize":14,"fontWeight":"normal","offset":7},
"data":{"values":[{"i":1,"c2":26,"c3":0,"c4":66,"c5":6,"c6":2},{"i":2,"c2":28,"c3":0,"c4":63,"c5":7,"c6":2},{"i":3,"c2":24,"c3":0,"c4":66,"c5":8,"c6":2},{"i":4,"c2":26,"c3":0,"c4":66,"c5":5,"c6":3},{"i":5,"c2":22,"c3":0,"c4":70,"c5":6,"c6":2},{"i":6,"c2":23,"c3":0,"c4":68,"c5":7,"c6":2},{"i":7,"c2":20,"c3":0,"c4":72,"c5":6,"c6":2},{"i":8,"c2":19,"c3":0,"c4":73,"c5":6,"c6":2},{"i":9,"c2":20,"c3":0,"c4":72,"c5":7,"c6":1},{"i":10,"c2":19,"c3":0,"c4":73,"c5":8,"c6":0},{"i":11,"c2":20,"c3":0,"c4":71,"c5":9,"c6":0},{"i":12,"c2":19,"c3":0,"c4":72,"c5":8,"c6":1},{"i":13,"c2":22,"c3":0,"c4":70,"c5":8,"c6":0},{"i":14,"c2":27,"c3":0,"c4":63,"c5":10,"c6":0},{"i":15,"c2":1,"c3":0,"c4":93,"c5":6,"c6":0},{"i":16,"c2":2,"c3":0,"c4":93,"c5":5,"c6":0},{"i":17,"c2":0,"c3":0,"c4":97,"c5":3,"c6":0},{"i":18,"c2":1,"c3":0,"c4":97,"c5":2,"c6":0},{"i":19,"c2":2,"c3":0,"c4":97,"c5":1,"c6":0},{"i":20,"c2":1,"c3":0,"c4":98,"c5":1,"c6":0},{"i":21,"c2":0,"c3":0,"c4":99,"c5":1,"c6":0},{"i":22,"c2":1,"c3":0,"c4":98,"c5":1,"c6":0},{"i":23,"c2":0,"c3":1,"c4":98,"c5":1,"c6":0},{"i":24,"c2":0,"c3":6,"c4":93,"c5":1,"c6":0},{"i":25,"c2":0,"c3":7,"c4":93,"c5":0,"c6":0},{"i":26,"c2":0,"c3":6,"c4":94,"c5":0,"c6":0},{"i":27,"c2":0,"c3":8,"c4":92,"c5":0,"c6":0},{"i":28,"c2":0,"c3":7,"c4":93,"c5":0,"c6":0},{"i":29,"c2":0,"c3":8,"c4":92,"c5":0,"c6":0},{"i":30,"c2":0,"c3":6,"c4":94,"c5":0,"c6":0},{"i":31,"c2":0,"c3":7,"c4":93,"c5":0,"c6":0},{"i":32,"c2":0,"c3":5,"c4":95,"c5":0,"c6":0},{"i":33,"c2":0,"c3":6,"c4":94,"c5":0,"c6":0},{"i":34,"c2":0,"c3":5,"c4":95,"c5":0,"c6":0},{"i":35,"c2":0,"c3":3,"c4":97,"c5":0,"c6":0},{"i":36,"c2":0,"c3":4,"c4":96,"c5":0,"c6":0}]},
"transform":[{"fold":["c2","c3","c4","c5","c6"],"as":["key","share"]}],"mark":{"type":"area","interpolate":"step"},"encoding":{"x":{"field":"i","type":"quantitative","axis":null,"scale":{"domain":[1,36],"nice":false,"zero":false}},"y":{"field":"share","type":"quantitative","stack":"zero","axis":null,"scale":{"domain":[0,100],"nice":false}},"color":{"field":"key","type":"nominal","legend":null,"scale":{"domain":["c1","c2","c3","c4","c5","c6"],"range":["#e31e26","#f57e20","#3a7dba","#4cae4a","#f8ec2f","#964b9e"]}},"order":{"field":"key","sort":"ascending"}}},
{"width":110.5,"height":168.5,"title":{"text":"East Asia","fontSize":14,"fontWeight":"normal","offset":7},
"data":{"values":[{"i":1,"c3":100,"c5":0},{"i":2,"c3":100,"c5":0},{"i":3,"c3":100,"c5":0},{"i":4,"c3":100,"c5":0},{"i":5,"c3":100,"c5":0},{"i":6,"c3":100,"c5":0},{"i":7,"c3":100,"c5":0},{"i":8,"c3":100,"c5":0},{"i":9,"c3":100,"c5":0},{"i":10,"c3":100,"c5":0},{"i":11,"c3":100,"c5":0},{"i":12,"c3":100,"c5":0},{"i":13,"c3":100,"c5":0},{"i":14,"c3":100,"c5":0},{"i":15,"c3":100,"c5":0},{"i":16,"c3":100,"c5":0},{"i":17,"c3":100,"c5":0},{"i":18,"c3":100,"c5":0},{"i":19,"c3":100,"c5":0},{"i":20,"c3":100,"c5":0},{"i":21,"c3":99,"c5":1},{"i":22,"c3":98,"c5":2}]},
"transform":[{"fold":["c3","c5"],"as":["key","share"]}],"mark":{"type":"area","interpolate":"step"},"encoding":{"x":{"field":"i","type":"quantitative","axis":null,"scale":{"domain":[1,22],"nice":false,"zero":false}},"y":{"field":"share","type":"quantitative","stack":"zero","axis":null,"scale":{"domain":[0,100],"nice":false}},"color":{"field":"key","type":"nominal","legend":null,"scale":{"domain":["c1","c2","c3","c4","c5","c6"],"range":["#e31e26","#f57e20","#3a7dba","#4cae4a","#f8ec2f","#964b9e"]}},"order":{"field":"key","sort":"ascending"}}}
]},
{"width":1,"height":25.3,"data":{"values":[{}]},"mark":{"type":"rule","opacity":0},"encoding":{}},
{"spacing":0,"bounds":"flush","resolve":{"scale":{"color":"independent"},"legend":{"color":"independent"}},"hconcat":[
{"width":38.7,"height":274,"data":{"values":[{"panel":"c","u":0.24,"v":0.062}]},"mark":{"type":"text","fontSize":18,"align":"left","baseline":"alphabetic","color":"#111"},"encoding":{"text":{"field":"panel"},"x":{"field":"u","type":"quantitative","axis":null,"scale":{"domain":[0,1],"zero":false,"nice":false}},"y":{"field":"v","type":"quantitative","axis":null,"scale":{"domain":[0,1],"reverse":true,"nice":false}}}},
{"width":273,"height":274,
"encoding":{"x":{"field":"x","type":"quantitative","scale":{"domain":[0,0.015],"nice":false,"zero":false},"axis":{"values":[0,0.005,0.01,0.015],"format":".3f","grid":false,"domainColor":"#333","tickColor":"#333","tickSize":5,"labelFontSize":10,"labelColor":"#111","labelPadding":4,"labelFlush":false,"title":"Drift parameter","titleFontSize":14.3,"titleFontWeight":"bold","titleColor":"#111","titlePadding":10}},"y":{"field":"y","type":"quantitative","axis":null,"scale":{"domain":[0.25,14.61],"reverse":true,"nice":false,"zero":false}}},
"layer":[
{"data":{"values":[{"x":0,"y":2.571,"x2":0.001795,"y2":1.593},{"x":0.001795,"y":1.593,"x2":0.001905,"y2":1.052},{"x":0.001795,"y":1.593,"x2":0.002344,"y2":2.099},{"x":0,"y":2.571,"x2":0.001795,"y2":3.6},{"x":0.001795,"y":3.6,"x2":0.001795,"y2":3.094},{"x":0.001795,"y":3.6,"x2":0.002015,"y2":4.473},{"x":0.002015,"y":4.473,"x2":0.002015,"y2":4.089},{"x":0.002015,"y":4.473,"x2":0.002161,"y2":6.358},{"x":0.002161,"y":6.358,"x2":0.002344,"y2":5.572},{"x":0.002344,"y":5.572,"x2":0.002875,"y2":5.101},{"x":0.002344,"y":5.572,"x2":0.002308,"y2":6.218},{"x":0.002161,"y":6.358,"x2":0.00218,"y2":6.009},{"x":0.002161,"y":6.358,"x2":0.002473,"y2":9.499},{"x":0.002473,"y":9.499,"x2":0.003095,"y2":7.579},{"x":0.003095,"y":7.579,"x2":0.003425,"y2":7.091},{"x":0.003095,"y":7.579,"x2":0.003095,"y2":8.103},{"x":0.002857,"y":8.679,"x2":0.002894,"y2":9.15},{"x":0.002473,"y":9.499,"x2":0.002473,"y2":10.581},{"x":0.002546,"y":10.11,"x2":0.002546,"y2":10.546},{"x":0.002473,"y":10.581,"x2":0.002875,"y2":11.628},{"x":0.002875,"y":11.628,"x2":0.003297,"y2":11.07},{"x":0.002875,"y":11.628,"x2":0.004963,"y2":12.606},{"x":0.004963,"y":12.606,"x2":0.005165,"y2":12.08},{"x":0.004963,"y":12.606,"x2":0.00522,"y2":14.124},{"x":0.005073,"y":13.129,"x2":0.00509,"y2":13.6}]},"mark":{"type":"rule","color":"#333","strokeWidth":0.8},"encoding":{"x2":{"field":"x2"},"y2":{"field":"y2"}}},
{"data":{"values":[{"label":"YRI","group":"Africa","x":0.00557,"y":1},{"label":"LWK","group":"Africa","x":0.00615,"y":2},{"label":"NWA","group":"Middle East","x":0.00571,"y":3},{"label":"NEA","group":"Middle East","x":0.00584,"y":4},{"label":"SD","group":"Middle East","x":0.00643,"y":5},{"label":"AP","group":"Middle East","x":0.00584,"y":6},{"label":"FIN","group":"Europe","x":0.00707,"y":7},{"label":"GBR","group":"Europe","x":0.00698,"y":8},{"label":"TSI","group":"Europe","x":0.00674,"y":9},{"label":"TP","group":"Middle East","x":0.00608,"y":10},{"label":"PP","group":"Middle East","x":0.00679,"y":11},{"label":"CHS","group":"East Asia","x":0.00897,"y":12},{"label":"CHB","group":"East Asia","x":0.00892,"y":13},{"label":"JPT","group":"East Asia","x":0.0089,"y":14}]},"mark":{"type":"text","fontSize":14.5,"align":"center","baseline":"middle"},"encoding":{"text":{"field":"label"},"color":{"field":"group","type":"nominal","legend":null,"scale":{"domain":["Africa","Middle East","Europe","East Asia"],"range":["#e31e26","#964b9e","#8cc63f","#3a7dba"]}}}}
]},
{"width":103.6,"height":274,"data":{"values":[{"panel":"d","u":0.232,"v":0.058}]},"mark":{"type":"text","fontSize":18,"align":"left","baseline":"alphabetic","color":"#111"},"encoding":{"text":{"field":"panel"},"x":{"field":"u","type":"quantitative","axis":null,"scale":{"domain":[0,1],"zero":false,"nice":false}},"y":{"field":"v","type":"quantitative","axis":null,"scale":{"domain":[0,1],"reverse":true,"nice":false}}}},
{"width":243,"height":297,
"data":{"values":[
{"row":"NWA","col":"FIN","fst":0.033},{"row":"NWA","col":"CEU","fst":0.027},{"row":"NWA","col":"GBR","fst":0.027},{"row":"NWA","col":"IBS","fst":0.023},{"row":"NWA","col":"TSI","fst":0.021},{"row":"NWA","col":"TP","fst":0.0195},{"row":"NWA","col":"SD","fst":0.015},{"row":"NWA","col":"PP","fst":0.026},{"row":"NWA","col":"AP","fst":0.012},{"row":"NWA","col":"NEA","fst":0.005},{"row":"NWA","col":"NWA","fst":0.001},
{"row":"NEA","col":"FIN","fst":0.029},{"row":"NEA","col":"CEU","fst":0.024},{"row":"NEA","col":"GBR","fst":0.024},{"row":"NEA","col":"IBS","fst":0.018},{"row":"NEA","col":"TSI","fst":0.014},{"row":"NEA","col":"TP","fst":0.011},{"row":"NEA","col":"SD","fst":0.005},{"row":"NEA","col":"PP","fst":0.018},{"row":"NEA","col":"AP","fst":0.003},{"row":"NEA","col":"NEA","fst":0.001},
{"row":"AP","col":"FIN","fst":0.028},{"row":"AP","col":"CEU","fst":0.022},{"row":"AP","col":"GBR","fst":0.022},{"row":"AP","col":"IBS","fst":0.019},{"row":"AP","col":"TSI","fst":0.014},{"row":"AP","col":"TP","fst":0.009},{"row":"AP","col":"SD","fst":0.004},{"row":"AP","col":"PP","fst":0.014},{"row":"AP","col":"AP","fst":0.001},
{"row":"PP","col":"FIN","fst":0.021},{"row":"PP","col":"CEU","fst":0.019},{"row":"PP","col":"GBR","fst":0.019},{"row":"PP","col":"IBS","fst":0.019},{"row":"PP","col":"TSI","fst":0.016},{"row":"PP","col":"TP","fst":0.005},{"row":"PP","col":"SD","fst":0.01},{"row":"PP","col":"PP","fst":0.001},
{"row":"SD","col":"FIN","fst":0.02},{"row":"SD","col":"CEU","fst":0.013},{"row":"SD","col":"GBR","fst":0.013},{"row":"SD","col":"IBS","fst":0.011},{"row":"SD","col":"TSI","fst":0.004},{"row":"SD","col":"TP","fst":0.003},{"row":"SD","col":"SD","fst":0.001},
{"row":"TP","col":"FIN","fst":0.017},{"row":"TP","col":"CEU","fst":0.011},{"row":"TP","col":"GBR","fst":0.011},{"row":"TP","col":"IBS","fst":0.01},{"row":"TP","col":"TSI","fst":0.004},{"row":"TP","col":"TP","fst":0.001},
{"row":"TSI","col":"FIN","fst":0.012},{"row":"TSI","col":"CEU","fst":0.002},{"row":"TSI","col":"GBR","fst":0.002},{"row":"TSI","col":"IBS","fst":0.002},{"row":"TSI","col":"TSI","fst":0.001},
{"row":"IBS","col":"FIN","fst":0.01},{"row":"IBS","col":"CEU","fst":0.002},{"row":"IBS","col":"GBR","fst":0.002},{"row":"IBS","col":"IBS","fst":0.001},
{"row":"GBR","col":"FIN","fst":0.006},{"row":"GBR","col":"CEU","fst":0.001},{"row":"GBR","col":"GBR","fst":0.001},
{"row":"CEU","col":"FIN","fst":0.006},{"row":"CEU","col":"CEU","fst":0.001},
{"row":"FIN","col":"FIN","fst":0.001}]},
"mark":{"type":"rect"},
"encoding":{"x":{"field":"col","type":"nominal","scale":{"domain":["FIN","CEU","GBR","IBS","TSI","TP","SD","PP","AP","NEA","NWA"],"padding":0},"axis":{"orient":"top","offset":-54,"title":null,"ticks":false,"domain":false,"labelAngle":90,"labelFontSize":14.5,"labelColor":"#111","labelPadding":6}},
"y":{"field":"row","type":"nominal","scale":{"domain":["NWA","NEA","AP","PP","SD","TP","TSI","IBS","GBR","CEU","FIN"],"range":[54,297],"padding":0},"axis":{"title":null,"ticks":false,"domain":false,"labelFontSize":14.5,"labelColor":"#111","labelPadding":7}},
"color":{"field":"fst","type":"quantitative","scale":{"interpolate":"rgb","domain":[-0.001,0,0.004,0.008,0.011,0.014,0.018,0.021,0.026,0.0334],"range":["#3b50a3","#3b50a3","#4f4f9b","#757387","#9c9c5c","#c8c43c","#f5ea14","#ffd20f","#f7941d","#ee2a2a"]},"legend":{"orient":"none","legendX":259,"legendY":120,"title":"Fst","titleFontSize":14,"titleFontWeight":"bold","titleColor":"#111","titlePadding":6,"gradientLength":83,"gradientThickness":16,"values":[0,0.01,0.02,0.03],"format":".2f","labelFontSize":11,"labelColor":"#111","labelOffset":6,"tickCount":4,"gradientStrokeWidth":0,"padding":0}}}}
]}
]}
